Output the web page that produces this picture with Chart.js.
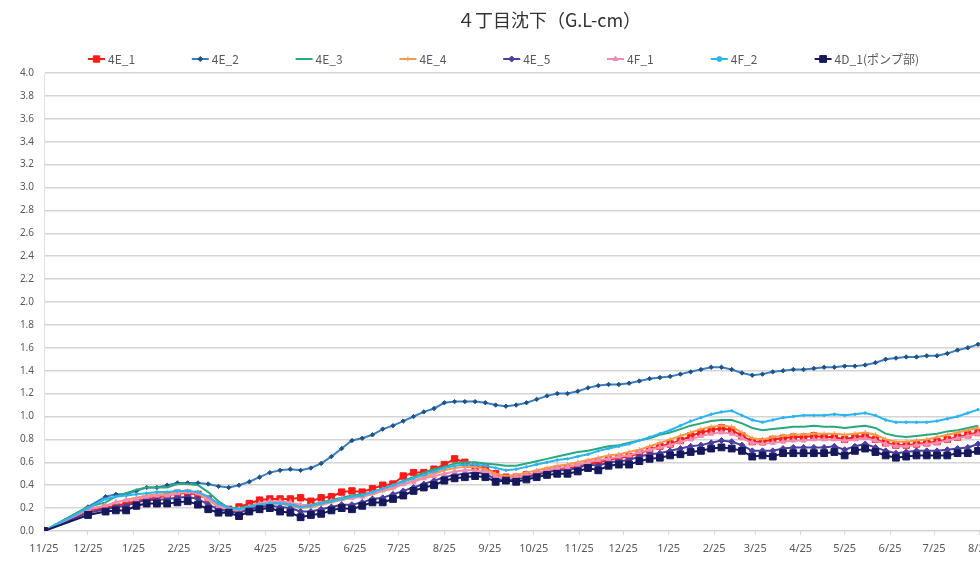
<!DOCTYPE html>
<html>
<head>
<meta charset="utf-8">
<script src="https://cdn.jsdelivr.net/npm/chart.js@4"></script>
<style>
  html, body { margin: 0; padding: 0; background: #fff; overflow: hidden; }
  #wrap { width: 1000px; height: 564px; }
</style>
</head>
<body>
<div id="wrap"><canvas id="chart" width="1000" height="564"></canvas></div>
<script>
"use strict";

const chartTitle = "４丁目沈下（G.L-cm）";

// days since first survey (11/25)
const days = [
  0, 30, 42, 49, 56, 63, 70, 77, 84, 91,
  98, 105, 112, 119, 126, 133, 140, 147, 154, 161,
  168, 175, 182, 189, 196, 203, 210, 217, 224, 231,
  238, 245, 252, 259, 266, 273, 280, 287, 294, 301,
  308, 315, 322, 329, 336, 343, 350, 357, 364, 371,
  378, 385, 392, 399, 406, 413, 420, 427, 434, 441,
  448, 455, 462, 469, 476, 483, 490, 497, 504, 511,
  518, 525, 532, 539, 546, 553, 560, 567, 574, 581,
  588, 595, 602, 609, 616, 623, 630, 637
];

const tickDays = [0, 30, 61, 92, 120, 151, 181, 212, 242, 273, 304, 334, 365, 395, 426, 457, 485, 516, 546, 577, 607, 638];
const tickLabels = ["11/25", "12/25", "1/25", "2/25", "3/25", "4/25", "5/25", "6/25", "7/25", "8/25", "9/25",
  "10/25", "11/25", "12/25", "1/25", "2/25", "3/25", "4/25", "5/25", "6/25", "7/25", "8/25"];

const seriesNames = ["4E_1", "4E_2", "4E_3", "4E_4", "4E_5", "4F_1", "4F_2", "4D_1(ポンプ部)"];

const e1 = [
  0, 0.18, 0.20, 0.22, 0.24, 0.26, 0.28, 0.29, 0.31, 0.33,
  0.33, 0.32, 0.28, 0.22, 0.19, 0.21, 0.24, 0.27, 0.28, 0.28,
  0.28, 0.29, 0.26, 0.29, 0.30, 0.34, 0.35, 0.34, 0.37, 0.40,
  0.41, 0.48, 0.51, 0.51, 0.54, 0.58, 0.63, 0.60, 0.56, 0.55,
  0.50, 0.47, 0.47, 0.49, 0.50, 0.52, 0.54, 0.55, 0.56, 0.59,
  0.60, 0.62, 0.64, 0.65, 0.68, 0.71, 0.74, 0.76, 0.79, 0.83,
  0.86, 0.88, 0.90, 0.88, 0.83, 0.78, 0.78, 0.80, 0.81, 0.82,
  0.82, 0.83, 0.82, 0.82, 0.80, 0.82, 0.83, 0.80, 0.77, 0.75,
  0.75, 0.76, 0.77, 0.78, 0.80, 0.82, 0.84, 0.86
];
const e2 = [
  0, 0.21, 0.30, 0.32, 0.32, 0.35, 0.38, 0.38, 0.40, 0.42,
  0.42, 0.42, 0.41, 0.39, 0.38, 0.40, 0.43, 0.47, 0.51, 0.53,
  0.54, 0.53, 0.55, 0.59, 0.65, 0.72, 0.79, 0.81, 0.84, 0.89,
  0.92, 0.96, 1.00, 1.04, 1.07, 1.12, 1.13, 1.13, 1.13, 1.12,
  1.10, 1.09, 1.10, 1.12, 1.15, 1.18, 1.20, 1.20, 1.22, 1.25,
  1.27, 1.28, 1.28, 1.29, 1.31, 1.33, 1.34, 1.35, 1.37, 1.39,
  1.41, 1.43, 1.43, 1.41, 1.38, 1.36, 1.37, 1.39, 1.40, 1.41,
  1.41, 1.42, 1.43, 1.43, 1.44, 1.44, 1.45, 1.47, 1.50, 1.51,
  1.52, 1.52, 1.53, 1.53, 1.55, 1.58, 1.60, 1.63
];
const e3 = [
  0, 0.21, 0.25, 0.30, 0.33, 0.36, 0.38, 0.38, 0.38, 0.41,
  0.41, 0.40, 0.34, 0.26, 0.20, 0.20, 0.22, 0.24, 0.25, 0.25,
  0.24, 0.22, 0.23, 0.25, 0.27, 0.29, 0.31, 0.32, 0.34, 0.37,
  0.40, 0.44, 0.47, 0.51, 0.54, 0.56, 0.59, 0.60, 0.60, 0.59,
  0.58, 0.57, 0.57, 0.59, 0.61, 0.63, 0.65, 0.67, 0.69, 0.70,
  0.72, 0.74, 0.75, 0.77, 0.79, 0.81, 0.84, 0.86, 0.89, 0.92,
  0.94, 0.96, 0.97, 0.97, 0.94, 0.90, 0.88, 0.89, 0.90, 0.91,
  0.91, 0.92, 0.91, 0.91, 0.90, 0.91, 0.92, 0.90, 0.85, 0.83,
  0.82, 0.83, 0.84, 0.85, 0.87, 0.88, 0.90, 0.92
];
const e4 = [
  0, 0.19, 0.22, 0.25, 0.27, 0.29, 0.31, 0.32, 0.32, 0.34,
  0.35, 0.33, 0.27, 0.21, 0.18, 0.18, 0.20, 0.22, 0.24, 0.24,
  0.22, 0.20, 0.21, 0.23, 0.25, 0.27, 0.29, 0.30, 0.32, 0.35,
  0.37, 0.41, 0.44, 0.47, 0.50, 0.53, 0.55, 0.56, 0.56, 0.54,
  0.50, 0.48, 0.49, 0.51, 0.53, 0.55, 0.57, 0.58, 0.60, 0.62,
  0.64, 0.66, 0.67, 0.69, 0.71, 0.74, 0.77, 0.80, 0.83, 0.86,
  0.89, 0.91, 0.92, 0.91, 0.86, 0.81, 0.80, 0.82, 0.83, 0.84,
  0.84, 0.85, 0.85, 0.85, 0.84, 0.85, 0.86, 0.84, 0.80, 0.78,
  0.78, 0.79, 0.80, 0.82, 0.84, 0.86, 0.88, 0.90
];
const e5 = [
  0, 0.16, 0.19, 0.21, 0.22, 0.25, 0.27, 0.27, 0.28, 0.29,
  0.30, 0.28, 0.23, 0.19, 0.17, 0.16, 0.19, 0.21, 0.22, 0.21,
  0.20, 0.17, 0.17, 0.19, 0.21, 0.23, 0.23, 0.25, 0.28, 0.29,
  0.32, 0.35, 0.38, 0.41, 0.44, 0.47, 0.49, 0.50, 0.51, 0.50,
  0.45, 0.45, 0.45, 0.47, 0.49, 0.51, 0.53, 0.53, 0.55, 0.58,
  0.57, 0.60, 0.61, 0.62, 0.65, 0.67, 0.68, 0.70, 0.72, 0.74,
  0.75, 0.77, 0.79, 0.78, 0.75, 0.70, 0.70, 0.70, 0.72, 0.73,
  0.73, 0.73, 0.73, 0.74, 0.71, 0.74, 0.76, 0.73, 0.70, 0.68,
  0.69, 0.70, 0.70, 0.70, 0.71, 0.72, 0.73, 0.76
];
const f1 = [
  0, 0.19, 0.22, 0.25, 0.27, 0.28, 0.30, 0.31, 0.31, 0.33,
  0.34, 0.33, 0.28, 0.22, 0.19, 0.19, 0.21, 0.24, 0.26, 0.26,
  0.25, 0.23, 0.22, 0.24, 0.26, 0.28, 0.29, 0.30, 0.33, 0.36,
  0.38, 0.41, 0.43, 0.46, 0.48, 0.50, 0.52, 0.53, 0.53, 0.52,
  0.48, 0.46, 0.47, 0.49, 0.51, 0.53, 0.55, 0.56, 0.58, 0.60,
  0.62, 0.63, 0.65, 0.66, 0.69, 0.71, 0.73, 0.75, 0.78, 0.80,
  0.83, 0.85, 0.86, 0.85, 0.81, 0.77, 0.76, 0.77, 0.78, 0.79,
  0.79, 0.80, 0.80, 0.80, 0.79, 0.80, 0.81, 0.79, 0.76, 0.74,
  0.74, 0.75, 0.76, 0.77, 0.79, 0.81, 0.83, 0.85
];
const f2 = [
  0, 0.20, 0.28, 0.30, 0.31, 0.32, 0.33, 0.34, 0.34, 0.35,
  0.35, 0.34, 0.30, 0.24, 0.20, 0.19, 0.21, 0.23, 0.24, 0.24,
  0.23, 0.21, 0.22, 0.24, 0.26, 0.28, 0.30, 0.31, 0.34, 0.37,
  0.40, 0.43, 0.46, 0.49, 0.52, 0.55, 0.57, 0.58, 0.58, 0.57,
  0.55, 0.53, 0.54, 0.56, 0.58, 0.60, 0.62, 0.63, 0.65, 0.67,
  0.70, 0.72, 0.74, 0.76, 0.79, 0.82, 0.85, 0.88, 0.92, 0.96,
  0.99, 1.02, 1.04, 1.05, 1.01, 0.97, 0.95, 0.97, 0.99, 1.00,
  1.01, 1.01, 1.01, 1.02, 1.01, 1.02, 1.03, 1.01, 0.97, 0.95,
  0.95, 0.95, 0.95, 0.96, 0.98, 1.00, 1.03, 1.06
];
const d1 = [
  0, 0.14, 0.17, 0.18, 0.18, 0.22, 0.24, 0.24, 0.24, 0.25,
  0.26, 0.23, 0.19, 0.16, 0.16, 0.13, 0.17, 0.19, 0.20, 0.17,
  0.16, 0.12, 0.14, 0.15, 0.18, 0.20, 0.19, 0.22, 0.25, 0.25,
  0.28, 0.31, 0.35, 0.38, 0.40, 0.44, 0.46, 0.47, 0.48, 0.47,
  0.43, 0.44, 0.43, 0.45, 0.47, 0.49, 0.50, 0.50, 0.52, 0.55,
  0.53, 0.57, 0.58, 0.58, 0.61, 0.63, 0.64, 0.66, 0.67, 0.69,
  0.70, 0.72, 0.73, 0.72, 0.70, 0.65, 0.66, 0.65, 0.68, 0.68,
  0.68, 0.68, 0.68, 0.69, 0.66, 0.70, 0.72, 0.69, 0.66, 0.64,
  0.65, 0.66, 0.66, 0.66, 0.66, 0.68, 0.68, 0.70
];

const seriesValues = [e1, e2, e3, e4, e5, f1, f2, d1];

// line colour, marker style, marker radius, marker fill
const styles = [
  { color: "#ff1a1a", point: "rect", radius: 4.5, fill: "#ff1a1a" },
  { color: "#3a7fc4", point: "rectRot", radius: 2.2, fill: "#24527f" },
  { color: "#27a97c", point: "circle", radius: 0, fill: "#27a97c" },
  { color: "#f59a48", point: "cross", radius: 2.5, fill: "#f59a48" },
  { color: "#4a3e9e", point: "rectRot", radius: 3, fill: "#4a3e9e" },
  { color: "#f28db2", point: "triangle", radius: 3, fill: "#f28db2" },
  { color: "#2db4f0", point: "circle", radius: 1.2, fill: "#2db4f0" },
  { color: "#16185c", point: "rect", radius: 4.8, fill: "#16185c" }
];

const datasets = seriesNames.map((name, i) => ({
  label: name,
  data: days.map((d, j) => ({ x: d, y: seriesValues[i][j] })),
  borderColor: styles[i].color,
  backgroundColor: styles[i].fill,
  pointBackgroundColor: styles[i].fill,
  pointBorderColor: styles[i].fill,
  pointStyle: styles[i].point,
  pointRadius: styles[i].radius,
  pointBorderWidth: 1,
  borderWidth: 2,
  tension: 0,
  order: seriesNames.length - i
}));

const titleLegend = {
  id: "titleLegend",
  afterDraw(chart) {
    const ctx = chart.ctx;
    ctx.save();
    ctx.fillStyle = "#333";
    ctx.font = "18px 'Noto Sans CJK JP', 'Noto Sans', sans-serif";
    ctx.textAlign = "center";
    ctx.textBaseline = "middle";
    ctx.fillText(chartTitle, 549, 20);

    ctx.font = "12px 'Noto Sans CJK JP', 'Noto Sans', sans-serif";
    ctx.textAlign = "left";
    seriesNames.forEach((name, i) => {
      const x = 88 + i * 103.8;
      const y = 59;
      const st = styles[i];
      ctx.strokeStyle = st.color;
      ctx.lineWidth = 2;
      ctx.beginPath();
      ctx.moveTo(x, y);
      ctx.lineTo(x + 17, y);
      ctx.stroke();
      if (st.radius > 0) {
        ctx.fillStyle = st.fill;
        ctx.strokeStyle = st.fill;
        ctx.lineWidth = 1;
        Chart.helpers.drawPoint(ctx, { pointStyle: st.point, radius: Math.max(st.radius, 2.5), borderWidth: 1 }, x + 8.5, y);
      }
      ctx.fillStyle = "#595959";
      ctx.fillText(name, x + 20, y);
    });
    ctx.restore();
  }
};

new Chart(document.getElementById("chart").getContext("2d"), {
  type: "line",
  data: { datasets: datasets },
  plugins: [titleLegend],
  options: {
    responsive: false,
    animation: false,
    layout: { padding: { top: 73, left: 0, right: 0, bottom: 0 } },
    plugins: {
      legend: { display: false },
      title: { display: false },
      tooltip: { enabled: false }
    },
    scales: {
      x: {
        type: "linear",
        min: 0,
        max: 648,
        afterBuildTicks: axis => { axis.ticks = tickDays.map(v => ({ value: v })); },
        afterFit: axis => { axis.height = 33; },
        ticks: {
          autoSkip: false,
          maxRotation: 0,
          padding: 7,
          color: "#595959",
          font: { size: 11, family: "'Noto Sans', sans-serif" },
          callback: (v, idx) => tickLabels[idx]
        },
        grid: { display: true, drawOnChartArea: false, drawTicks: true, tickLength: 4, color: "#d9d9d9" },
        border: { display: false }
      },
      y: {
        min: 0,
        max: 4,
        afterFit: axis => { axis.width = 44; },
        ticks: {
          stepSize: 0.2,
          padding: 10,
          color: "#595959",
          font: { size: 10, family: "'Noto Sans', sans-serif" },
          callback: v => v.toFixed(1)
        },
        grid: { color: "#d4d4d4", lineWidth: 1.5, drawTicks: false },
        border: { display: true, color: "#e0e0e0" }
      }
    }
  }
});
</script>
</body>
</html>
